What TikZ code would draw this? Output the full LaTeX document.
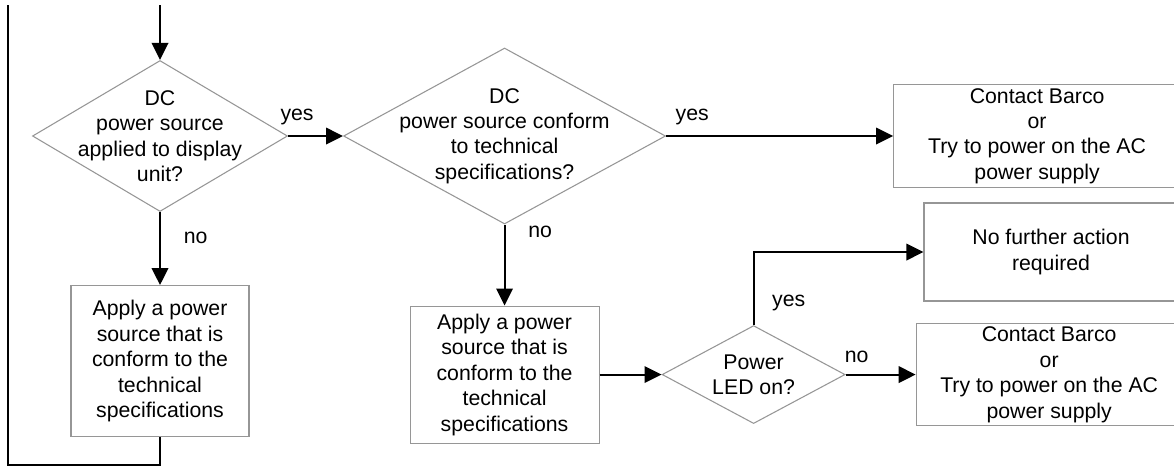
\documentclass[tikz,border=0pt]{standalone}
\usepackage{fontspec}
\setmainfont{Liberation Sans}
\usetikzlibrary{shapes.geometric,arrows.meta,positioning,calc}
\definecolor{edgegray}{RGB}{150,150,150}

\begin{document}
\begin{tikzpicture}[
    box/.style={draw=edgegray, line width=0.6pt, align=center, inner sep=0pt, font=\fontsize{12.1}{14.5}\selectfont},
    decision/.style={diamond, draw=edgegray, line width=0.6pt, inner sep=0pt},
    txt/.style={align=center, inner sep=0pt, font=\fontsize{12.1}{14.5}\selectfont},
    lbl/.style={inner sep=0pt, font=\fontsize{12.1}{14.5}\selectfont},
    arr/.style={-{Triangle[length=0.34cm,width=0.33cm]}, line width=1.1pt}
]
\clip (0,0) rectangle (23.48,-9.34);
\fill[white] (0,0) rectangle (23.48,-9.34);

\node[decision, minimum width=5.1cm, minimum height=3.02cm,
      label={[txt]center:DC\\power source\\applied to display\\unit?}] (dcApplied) at (3.2,-2.72) {};
\node[box, minimum width=3.56cm, minimum height=3.02cm, below=1.46cm of dcApplied] (applyA)
      {Apply a power\\source that is\\conform to the\\technical\\specifications};
\node[decision, minimum width=6.44cm, minimum height=3.52cm, right=1.1cm of dcApplied,
      label={[txt]center:DC\\power source conform\\to technical\\specifications?}] (dcConform) {};
\node[box, minimum width=3.78cm, minimum height=2.74cm, below=1.62cm of dcConform] (applyB)
      {Apply a power\\source that is\\conform to the\\technical\\specifications};
\node[decision, minimum width=3.66cm, minimum height=1.96cm, right=1.24cm of applyB,
      label={[txt]center:Power\\LED on?}] (ledOn) {};
\node[box, minimum width=5.74cm, minimum height=2.06cm, right=4.54cm of dcConform] (contactA)
      {Contact Barco\\or\\Try to power on the AC\\power supply};
\node[box, minimum width=5.08cm, minimum height=1.96cm] (noAction) at (21.02,-5.04)
      {No further action\\required};
\node[box, minimum width=5.32cm, minimum height=2.04cm, right=1.4cm of ledOn] (contactB)
      {Contact Barco\\or\\Try to power on the AC\\power supply};

\coordinate (entry) at (3.2,-0.1);
\coordinate (loopTop) at (0.16,-0.1);

\draw[arr] (entry) -- (dcApplied);
\draw[arr] (dcApplied) -- node[lbl, pos=0.164, above=6pt]{yes} (dcConform);
\draw[arr] (dcApplied) -- node[lbl, pos=0.356, right=13pt]{no} (applyA);
\draw[line width=1.1pt] (applyA.south) -- ++(0,-0.56) -| (loopTop);
\draw[arr] (dcConform) -- node[lbl, pos=0.115, above=6pt]{yes} (contactA);
\draw[arr] (dcConform) -- node[lbl, pos=0.086, right=13pt]{no} (applyB);
\draw[arr] (applyB) -- (ledOn);
\draw[arr] (ledOn.north) |- node[lbl, pos=0.15, right=10pt]{yes} (noAction.west);
\draw[arr] (ledOn) -- node[lbl, pos=0.157, above=6pt]{no} (contactB);
\end{tikzpicture}
\end{document}
